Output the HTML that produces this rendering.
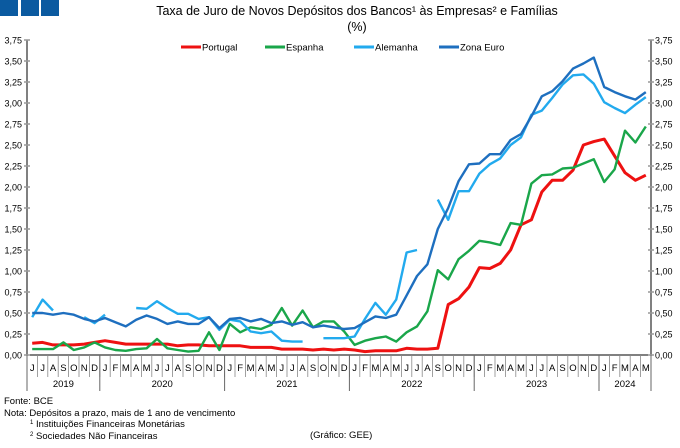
<!DOCTYPE html>
<html><head><meta charset="utf-8"><style>
body{margin:0;background:#fff;}
svg text{font-family:"Liberation Sans",sans-serif;}
</style></head><body>
<svg id="chart" width="680" height="443" xmlns="http://www.w3.org/2000/svg">
<rect x="0" y="0" width="18" height="16" fill="#0b5aa0"/>
<rect x="21" y="0" width="18" height="16" fill="#0b5aa0"/>
<rect x="41" y="0" width="18" height="16" fill="#0b5aa0"/>
<text x="357" y="15" font-size="12.5" text-anchor="middle" fill="#000">Taxa de Juro de Novos Depósitos dos Bancos¹ às Empresas² e Famílias</text>
<text x="357" y="31" font-size="12.5" text-anchor="middle" fill="#000">(%)</text>
<g id="axes"></g>
<g id="series"></g>
<g id="legend"></g>
<g font-size="9.5" fill="#000">
<text x="4" y="404">Fonte: BCE</text>
<text x="4" y="416">Nota: Depósitos a prazo, mais de 1 ano de vencimento</text>
<text x="30" y="427"><tspan font-size="6" dy="-3">1</tspan><tspan dy="3"> Instituições Financeiras Monetárias</tspan></text>
<text x="30" y="439"><tspan font-size="6" dy="-3">2</tspan><tspan dy="3"> Sociedades Não Financeiras</tspan></text>
<text x="310" y="438">(Gráfico: GEE)</text>
</g>
</svg>
<script>
const months = ["J","J","A","S","O","N","D","J","F","M","A","M","J","J","A","S","O","N","D","J","F","M","A","M","J","J","A","S","O","N","D","J","F","M","A","M","J","J","A","S","O","N","D","J","F","M","A","M","J","J","A","S","O","N","D","J","F","M","A","M"];
const years = [["2019",0,7],["2020",7,19],["2021",19,31],["2022",31,43],["2023",43,55],["2024",55,60]];
const yTicks = [0,0.25,0.5,0.75,1,1.25,1.5,1.75,2,2.25,2.5,2.75,3,3.25,3.5,3.75];
const portugal = [.14,.15,.12,.12,.12,.13,.15, .17,.15,.13,.13,.13,.13,.13,.11,.12,.12,.11,.11, .11,.11,.09,.09,.09,.07,.07,.07,.06,.07,.06,.07, .06,.04,.05,.05,.05,.08,.07,.07,.08,.60,.67,.81, 1.04,1.03,1.09,1.25,1.55,1.61,1.94,2.08,2.08,2.20,2.50,2.54, 2.57,2.37,2.17,2.08,2.14];
const espanha = [.07,.07,.07,.15,.06,.09,.15, .09,.06,.05,.07,.08,.19,.08,.06,.04,.05,.27,.06, .37,.27,.33,.31,.36,.56,.35,.53,.33,.40,.40,.28, .12,.17,.20,.22,.16,.27,.34,.52,1.01,.90,1.14,1.24, 1.36,1.34,1.31,1.57,1.55,2.04,2.14,2.15,2.22,2.23,2.28,2.33, 2.06,2.21,2.67,2.53,2.72];
const alemanha = [.45,.66,.53,null,null,.45,.38, .48,null,null,.56,.55,.64,.56,.49,.49,.43,.45,.30, .42,.40,.28,.26,.28,.17,.16,.16,null,.20,.20,.20, .22,.43,.62,.48,.66,1.22,1.25,null,1.85,1.61,1.95,1.95, 2.16,2.27,2.34,2.50,2.59,2.86,2.91,3.06,3.22,3.33,3.34,3.23, 3.01,2.94,2.88,2.98,3.07];
const zonaEuro = [.50,.50,.48,.50,.48,.43,.40, .44,.39,.34,.42,.47,.43,.37,.40,.37,.37,.45,.32, .43,.44,.40,.43,.38,.40,.36,.39,.33,.35,.33,.31, .32,.39,.46,.44,.48,.71,.94,1.08,1.50,1.75,2.07,2.27, 2.28,2.39,2.39,2.56,2.63,2.84,3.08,3.14,3.26,3.41,3.47,3.54, 3.19,3.13,3.08,3.04,3.13];
const seriesNames = ["Portugal","Espanha","Alemanha","Zona Euro"];
const seriesColors = ["#ee1111","#1aa64a","#22aaee","#1e6fbf"];

const NS="http://www.w3.org/2000/svg";
const X0=27,X1=651,Y0=355,Y1=40,YMAX=3.75;
const band=(X1-X0)/months.length;
const x=i=>X0+(i+0.5)*band;
const y=v=>Y0-(v/YMAX)*(Y0-Y1);
function mk(tag,attrs,parent){const e=document.createElementNS(NS,tag);for(const k in attrs)e.setAttribute(k,attrs[k]);parent.appendChild(e);return e;}
const axes=document.getElementById('axes');
let e;
e=mk('line',{x1:X0,y1:Y1,x2:X0,y2:Y0,stroke:'#000'},axes);


e=mk('line',{x1:X1,y1:Y1,x2:X1,y2:Y0,stroke:'#000'},axes);


e=mk('line',{x1:X0,y1:Y0,x2:X1,y2:Y0,stroke:'#000'},axes);


yTicks.forEach(t=>{
  const yy=y(t);
  mk('line',{x1:X0-3,y1:yy,x2:X0+3,y2:yy,stroke:'#999','stroke-width':1.5},axes);
  mk('line',{x1:X1-3,y1:yy,x2:X1+3,y2:yy,stroke:'#999','stroke-width':1.5},axes);
  const lbl=t.toFixed(2).replace('.',',');
  e=mk('text',{x:X0-5,y:yy+3.5,'font-size':9,'text-anchor':'end'},axes);e.textContent=lbl;
  
  
  e=mk('text',{x:X1+4,y:yy+3.5,'font-size':9},axes);e.textContent=lbl;
  
  
});
months.forEach((m,i)=>{
  mk('line',{x1:X0+i*band,y1:Y0,x2:X0+i*band,y2:Y0+22,stroke:'#888','stroke-width':0.8},axes);
  e=mk('text',{x:x(i),y:Y0+16,'font-size':9.5,'text-anchor':'middle'},axes);e.textContent=m;
  
  
});
years.forEach(([yr,a,b])=>{
  mk('line',{x1:X0+a*band,y1:Y0,x2:X0+a*band,y2:Y0+36,stroke:'#666','stroke-width':1},axes);
  e=mk('text',{x:X0+(a+b)/2*band,y:Y0+32,'font-size':9.5,'text-anchor':'middle'},axes);e.textContent=yr;
  
  
});
mk('line',{x1:X1,y1:Y0,x2:X1,y2:Y0+36,stroke:'#666'},axes);
const sg=document.getElementById('series');
[portugal,espanha,alemanha,zonaEuro].forEach((data,s)=>{
  let d='',pen=false;
  data.forEach((v,i)=>{
    if(v===null){pen=false;return;}
    d+=(pen?'L':'M')+x(i).toFixed(1)+','+y(v).toFixed(1);pen=true;
  });
  const p=mk('path',{d:d,fill:'none',stroke:seriesColors[s],'stroke-width':s===0?3:2.4,'stroke-linejoin':'round'},sg);
  
  
});
const lg=document.getElementById('legend');
const lx=[181,265,354,439];
seriesNames.forEach((n,s)=>{
  const g=mk('g',{},lg);
  
  
  mk('line',{x1:lx[s],y1:47,x2:lx[s]+20,y2:47,stroke:seriesColors[s],'stroke-width':3},g);
  const t=mk('text',{x:lx[s]+21,y:50.5,'font-size':9.5},g);t.textContent=n;
});
</script>
</body></html>
